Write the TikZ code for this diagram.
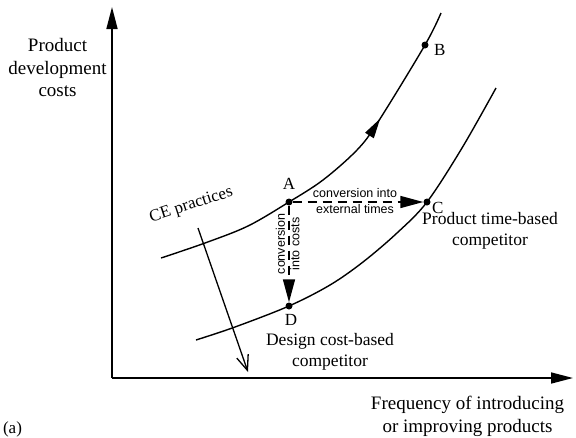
\documentclass[tikz,border=0pt]{standalone}
\usepackage{fontspec}
\setmainfont{Liberation Serif}
\newfontfamily\labelsans{Liberation Sans}
\usetikzlibrary{arrows.meta,decorations.markings}

\begin{document}
\begin{tikzpicture}[x=1pt,y=-1pt,
  axis/.style={line width=1.6pt,-{Triangle[length=22pt,width=11pt]}},
  curve/.style={line width=1.4pt},
  flowmark/.style={postaction={decorate,decoration={markings,
      mark=at position #1 with {\arrow{Triangle[length=20pt,width=10pt]}}}}},
  convarrow/.style={line width=1.5pt,dash pattern=on 9pt off 6pt,
      -{Triangle[length=23pt,width=12pt]}},
  cearrow/.style={line width=1.3pt,-{Straight Barb[length=15pt,width=12pt]}},
  dot/.style={circle,fill,inner sep=0pt,minimum size=7pt},
  ptlabel/.style={font=\fontsize{17}{20}\selectfont,inner sep=0pt},
  axlabel/.style={font=\fontsize{19}{22.5}\selectfont,align=center,inner sep=0pt},
  blocklabel/.style={font=\fontsize{17.5}{21}\selectfont,align=center,inner sep=0pt},
  smalllabel/.style={font=\labelsans\fontsize{12.5}{14}\selectfont,inner sep=0pt},
]
\useasboundingbox (0,0) rectangle (576,437);

% axes
\coordinate (O) at (112,378);
\coordinate (ytop) at (112,7);
\coordinate (xend) at (573,378);
\draw[axis] (O) -- (ytop);
\draw[axis] (O) -- (xend);
\node[axlabel,anchor=north] (ylab) at (57.5,38.5) {Product\\development\\costs};
\node[axlabel,anchor=north] (xlab) at (467.5,396) {Frequency of introducing\\or improving products};
\node[ptlabel,anchor=base] (sub) at (12.5,433) {(a)};

% points on the curves
\node[dot] (A) at (289,202) {};
\node[dot] (B) at (425,45) {};
\node[dot] (C) at (427,202) {};
\node[dot] (D) at (289,306) {};

% upper curve (through A and B)
\draw[curve,flowmark=0.685] plot[smooth,tension=0.55] coordinates {
  (161,258) (205,243) (248,226) (A.center) (323,180) (357,150)
  (378,122) (B.center) (441,13)};

% lower curve (through D and C)
\draw[curve] plot[smooth,tension=0.55] coordinates {
  (196,340) (235,327) (D.center) (330,285) (363,262) (397,233)
  (C.center) (462,148) (496,88)};

% conversions from A
\draw[convarrow] (A) -- (C);
\draw[convarrow] (A) -- (D);

% CE practices shift
\coordinate (ce1) at (198,228);
\coordinate (ce2) at (248,372);
\draw[cearrow] (ce1) -- (ce2);

% labels
\node[ptlabel,anchor=base] (Alab) at (289,189) {A};
\node[ptlabel,anchor=base west] (Blab) at (434,55) {B};
\node[ptlabel,anchor=base west] (Clab) at (432,213) {C};
\node[ptlabel,anchor=base] (Dlab) at (291,325) {D};
\node[ptlabel,anchor=base,rotate=18] (celab) at (192.5,209) {CE practices};
\node[blocklabel,anchor=north] (tblab) at (490,212) {Product time-based\\competitor};
\node[blocklabel,anchor=north] (cblab) at (330,333) {Design cost-based\\competitor};
\node[smalllabel,anchor=base] (ext1) at (355,197) {conversion into};
\node[smalllabel,anchor=base] (ext2) at (355,213) {external times};
\node[smalllabel,rotate=90] (cost1) at (280.5,244) {conversion};
\node[smalllabel,rotate=90] (cost2) at (295,244) {into costs};
\end{tikzpicture}
\end{document}
